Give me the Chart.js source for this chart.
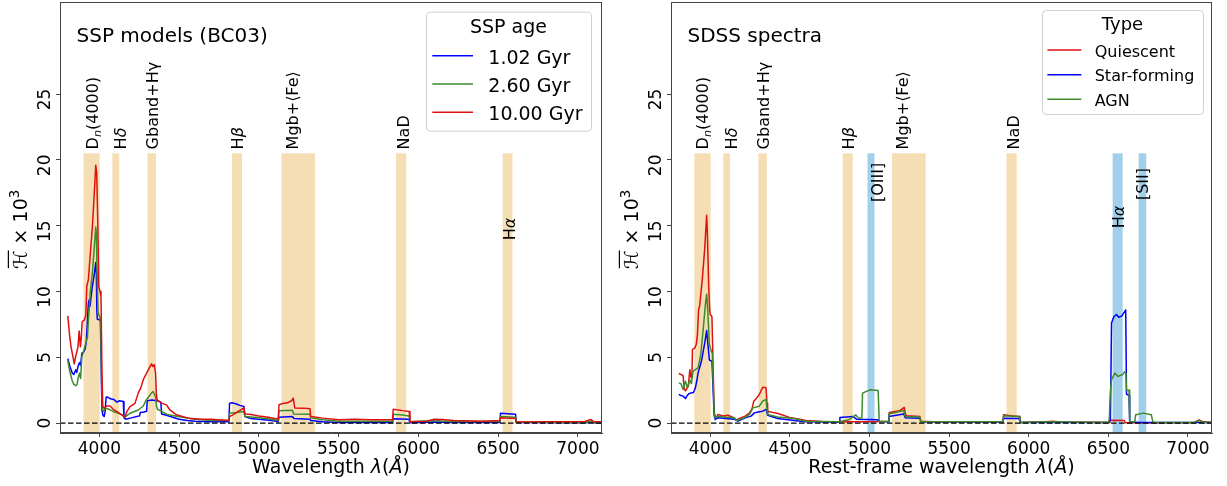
<!DOCTYPE html>
<html>
<head>
<meta charset="utf-8">
<script src="https://cdn.jsdelivr.net/npm/chart.js@4.4.1/dist/chart.umd.min.js"></script>
<style>
  html, body { margin: 0; padding: 0; background: #fff; }
  #wrap { position: relative; width: 1227px; height: 486px; }
  .panel { position: absolute; top: 0; height: 486px; }
  #left { left: 0; width: 613px; }
  #right { left: 613px; width: 614px; }
</style>
</head>
<body>
<div id="wrap">
  <div class="panel" id="left"><canvas id="sspChart"></canvas></div>
  <div class="panel" id="right"><canvas id="sdssChart"></canvas></div>
</div>
<script>
const FONT = '"DejaVu Sans", sans-serif';
const AXIS = '#444';

// shared axes
const xTicks = [4000, 4500, 5000, 5500, 6000, 6500, 7000];
const yTicks = [0, 5, 10, 15, 20, 25];
const xLimits = [3753, 7151];
const yLimits = [-0.75, 32];
const bandTop = 20.5;

// BC03 single stellar populations: [wavelength (Å), H x 10^3]
const ssp102 = [
  [3802, 4.9], [3815, 4.3], [3830, 3.8], [3840, 3.7], [3852, 4.05], [3858, 3.85], [3866, 4.3],
  [3875, 4.6], [3882, 4.4], [3890, 5.3], [3900, 5.4], [3910, 5.6], [3918, 6.2], [3924, 7.6],
  [3931, 9.1], [3937, 9.4], [3942, 8.9], [3948, 9.6], [3956, 10.4], [3964, 11.0], [3970, 11.5],
  [3977, 12.2], [3981, 11.4], [3984, 8.5], [3987, 7.9], [4000, 7.85], [4006, 7.8], [4010, 5.0],
  [4016, 1.0], [4022, 0.6], [4030, 0.5], [4036, 0.9], [4042, 1.95], [4048, 2.0], [4070, 1.85],
  [4090, 1.8], [4110, 1.6], [4125, 1.7], [4150, 1.65], [4154, 0.4], [4165, 0.3], [4200, 0.4],
  [4235, 0.5], [4252, 0.55], [4256, 0.8], [4280, 0.85], [4296, 0.9], [4300, 1.7], [4330, 1.75],
  [4360, 1.7], [4385, 1.6], [4390, 0.7], [4420, 0.6], [4460, 0.45], [4500, 0.3], [4550, 0.2],
  [4600, 0.15], [4700, 0.1], [4812, 0.1], [4816, 1.5], [4830, 1.55], [4860, 1.45], [4880, 1.35],
  [4906, 1.27], [4912, 0.5], [4950, 0.35], [5000, 0.3], [5080, 0.2], [5121, 0.1], [5126, 0.45],
  [5210, 0.5], [5220, 0.35], [5320, 0.3], [5325, 0.2], [5400, 0.1], [5500, 0.05], [5838, 0.05],
  [5842, 0.33], [5940, 0.3], [5947, 0.03], [6100, 0.08], [6200, 0.05], [6511, 0.05], [6515, 0.76],
  [6560, 0.72], [6609, 0.68], [6613, 0.05], [7050, 0.03], [7080, 0.1], [7100, 0.03], [7151, 0.03]
];
const ssp260 = [
  [3802, 4.75], [3815, 3.9], [3830, 3.2], [3840, 2.95], [3852, 2.85], [3860, 2.95], [3868, 3.5],
  [3875, 3.8], [3882, 3.4], [3890, 5.05], [3900, 5.4], [3915, 6.1], [3925, 6.5], [3931, 7.8],
  [3944, 10.1], [3956, 11.4], [3967, 13.2], [3977, 14.9], [3981, 14.4], [3986, 11.0], [3992, 8.4],
  [4004, 8.0], [4008, 7.8], [4014, 3.0], [4020, 1.0], [4028, 0.9], [4035, 1.14], [4060, 1.05],
  [4087, 0.89], [4120, 0.75], [4140, 0.63], [4160, 0.45], [4192, 0.75], [4244, 1.0], [4275, 1.3],
  [4296, 1.8], [4315, 2.1], [4327, 2.3], [4337, 2.4], [4352, 2.0], [4358, 1.3], [4364, 1.05],
  [4390, 0.9], [4431, 0.63], [4494, 0.5], [4598, 0.3], [4700, 0.2], [4812, 0.2], [4816, 0.75],
  [4860, 0.8], [4906, 0.89], [4912, 0.5], [4970, 0.45], [5050, 0.35], [5121, 0.2], [5126, 0.94],
  [5210, 0.98], [5218, 0.7], [5320, 0.68], [5325, 0.4], [5400, 0.25], [5500, 0.15], [5839, 0.15],
  [5843, 0.68], [5900, 0.62], [5942, 0.55], [5947, 0.1], [6100, 0.2], [6200, 0.12], [6511, 0.12],
  [6515, 0.5], [6610, 0.45], [6613, 0.08], [7050, 0.05], [7080, 0.15], [7100, 0.05], [7151, 0.05]
];
const ssp1000 = [
  [3802, 8.15], [3812, 6.8], [3822, 5.8], [3835, 5.0], [3842, 4.5], [3850, 5.0], [3858, 5.4],
  [3866, 5.8], [3873, 7.0], [3881, 5.8], [3886, 6.4], [3892, 7.7], [3906, 7.85], [3915, 8.2],
  [3921, 10.4], [3931, 10.9], [3942, 12.7], [3956, 14.9], [3969, 17.7], [3977, 19.6], [3983, 19.0],
  [3990, 15.2], [3996, 10.4], [4004, 10.0], [4010, 9.6], [4016, 4.0], [4021, 1.27], [4031, 1.14],
  [4046, 1.3], [4067, 1.3], [4087, 1.05], [4108, 0.9], [4140, 0.63], [4160, 0.46], [4171, 0.85],
  [4192, 1.25], [4223, 1.5], [4244, 2.3], [4260, 2.7], [4275, 3.3], [4296, 3.8], [4317, 4.3],
  [4327, 4.5], [4336, 4.3], [4344, 4.45], [4352, 3.8], [4357, 2.2], [4362, 1.77], [4390, 1.52],
  [4421, 1.39], [4442, 1.0], [4483, 0.63], [4556, 0.38], [4640, 0.3], [4700, 0.3], [4812, 0.2],
  [4816, 0.5], [4840, 0.65], [4870, 0.9], [4906, 1.15], [4912, 0.7], [4950, 0.65], [5000, 0.55],
  [5060, 0.45], [5121, 0.3], [5126, 1.4], [5150, 1.5], [5180, 1.55], [5205, 1.7], [5215, 1.9],
  [5225, 1.15], [5280, 1.14], [5320, 1.1], [5325, 0.5], [5400, 0.38], [5500, 0.25], [5600, 0.3],
  [5700, 0.25], [5838, 0.25], [5842, 1.06], [5900, 0.95], [5942, 0.89], [5947, 0.1], [6050, 0.15],
  [6100, 0.3], [6150, 0.28], [6220, 0.2], [6400, 0.15], [6511, 0.2], [6515, 0.4], [6610, 0.36],
  [6613, 0.08], [6800, 0.1], [7040, 0.1], [7080, 0.28], [7100, 0.1], [7151, 0.1]
];

// SDSS galaxy classes
const sdssQuiescent = [
  [3802, 3.77], [3815, 3.7], [3829, 3.6], [3836, 2.6], [3844, 2.45], [3855, 2.7], [3862, 2.8],
  [3871, 4.05], [3878, 3.5], [3884, 3.45], [3888, 5.6], [3902, 5.7], [3912, 6.0], [3919, 6.7],
  [3926, 8.6], [3933, 8.9], [3950, 11.0], [3965, 13.3], [3977, 15.8], [3981, 14.6], [3990, 10.3],
  [3996, 8.6], [4000, 8.25], [4010, 8.1], [4016, 5.0], [4024, 0.9], [4031, 0.5], [4037, 0.4],
  [4048, 0.66], [4080, 0.55], [4110, 0.6], [4140, 0.45], [4162, 0.25], [4190, 0.4], [4215, 0.5],
  [4246, 0.78], [4262, 1.1], [4273, 1.67], [4290, 1.9], [4308, 2.18], [4320, 2.5], [4329, 2.73],
  [4345, 2.7], [4350, 2.68], [4356, 1.5], [4360, 0.91], [4402, 0.78], [4420, 0.75], [4444, 0.66],
  [4506, 0.4], [4569, 0.28], [4600, 0.2], [4700, 0.12], [4800, 0.1], [5000, 0.1], [5120, 0.15],
  [5124, 0.8], [5190, 0.95], [5218, 1.2], [5225, 0.7], [5232, 0.56], [5316, 0.5], [5322, 0.15],
  [5400, 0.1], [5838, 0.1], [5842, 0.63], [5900, 0.55], [5940, 0.5], [5945, 0.05], [6100, 0.1],
  [6150, 0.15], [6200, 0.08], [6505, 0.05], [6510, 0.22], [6600, 0.2], [6606, 0.03], [6800, 0.03],
  [7040, 0.05], [7070, 0.25], [7095, 0.1], [7151, 0.05]
];
const sdssStarForming = [
  [3802, 2.18], [3815, 2.1], [3829, 2.05], [3844, 1.87], [3855, 2.1], [3865, 2.23], [3880, 2.3],
  [3892, 2.3], [3900, 2.5], [3906, 2.68], [3915, 3.2], [3923, 3.82], [3944, 4.7], [3965, 6.1],
  [3977, 7.04], [3983, 6.2], [3994, 4.8], [4010, 4.7], [4016, 3.0], [4024, 0.6], [4031, 0.28],
  [4048, 0.4], [4100, 0.35], [4150, 0.3], [4173, 0.15], [4220, 0.4], [4256, 0.53], [4277, 0.78],
  [4300, 0.85], [4329, 0.91], [4350, 1.04], [4356, 0.8], [4360, 0.6], [4423, 0.35], [4527, 0.2],
  [4600, 0.1], [4810, 0.08], [4814, 0.43], [4897, 0.5], [4918, 0.3], [5054, 0.25], [5060, 0.13],
  [5118, 0.1], [5122, 0.5], [5215, 0.7], [5225, 0.4], [5316, 0.38], [5322, 0.1], [5838, 0.08],
  [5842, 0.38], [5940, 0.35], [5945, 0.05], [6505, 0.05], [6513, 0.3], [6520, 7.6], [6535, 8.1],
  [6551, 8.25], [6565, 8.05], [6585, 8.15], [6609, 8.6], [6614, 2.2], [6630, 2.1], [6634, 0.1],
  [6700, 0.05], [7151, 0.05]
];
const sdssAGN = [
  [3802, 3.06], [3815, 3.0], [3829, 2.56], [3844, 3.19], [3856, 2.68], [3871, 3.3], [3881, 3.0],
  [3892, 3.95], [3923, 4.2], [3940, 5.2], [3956, 7.24], [3969, 9.0], [3977, 9.8], [3983, 8.76],
  [3994, 5.97], [4006, 5.47], [4012, 5.34], [4018, 3.0], [4025, 0.7], [4031, 0.4], [4048, 0.53],
  [4100, 0.45], [4152, 0.4], [4162, 0.2], [4215, 0.4], [4246, 0.66], [4267, 1.16], [4308, 1.29],
  [4329, 1.67], [4350, 1.8], [4356, 1.0], [4360, 0.66], [4423, 0.46], [4527, 0.35], [4600, 0.15],
  [4810, 0.1], [4870, 0.25], [4914, 0.63], [4929, 0.38], [4952, 0.4], [4956, 2.28], [5002, 2.53],
  [5054, 2.48], [5061, 0.13], [5118, 0.12], [5122, 0.7], [5215, 0.96], [5225, 0.5], [5316, 0.46],
  [5322, 0.1], [5838, 0.1], [5842, 0.56], [5940, 0.5], [5945, 0.05], [6130, 0.1], [6500, 0.05],
  [6506, 0.3], [6512, 2.3], [6520, 3.3], [6541, 3.8], [6561, 3.55], [6590, 3.7], [6603, 3.9],
  [6610, 3.8], [6614, 2.5], [6630, 2.5], [6634, 0.1], [6665, 0.1], [6672, 0.63], [6720, 0.76],
  [6770, 0.63], [6780, 0.05], [7040, 0.05], [7070, 0.2], [7095, 0.05], [7151, 0.05]
];

// index windows [start, end] in Å
const absorptionWindows = [[3900, 4002], [4081, 4124], [4302, 4355], [4831, 4894], [5141, 5352], [5860, 5924]];
const sspHalphaWindow = [[6528, 6590]];
const emissionWindows = [[4987, 5031], [6527, 6590], [6690, 6738]];

// rich text pieces: t = text, it = italic, sub / sup = small shifted, bar = overline
const T = (t, o = {}) => ({ t, ...o });
const txtDn = [T('D'), T('n', { sub: true, it: true }), T('(4000)')];
const txtHd = [T('H'), T('δ', { it: true })];
const txtGb = [T('Gband+H'), T('γ')];
const txtHb = [T('H'), T('β', { it: true })];
const txtMg = [T('Mgb+⟨Fe⟩')];
const txtNa = [T('NaD')];
const txtHa = [T('H'), T('α', { it: true })];

const sspLabels = [
  { segs: txtDn, at: [3952, 20.8] }, { segs: txtHd, at: [4131, 20.8] },
  { segs: txtGb, at: [4329, 20.8] }, { segs: txtHb, at: [4866, 20.8] },
  { segs: txtMg, at: [5207, 20.8] }, { segs: txtNa, at: [5906, 20.8] },
  { segs: txtHa, at: [6567, 13.9] }
];
const sdssLabels = [
  { segs: txtDn, at: [3949, 20.8] }, { segs: txtHd, at: [4131, 20.8] },
  { segs: txtGb, at: [4330, 20.8] }, { segs: txtHb, at: [4865, 20.8] },
  { segs: [T('[OIII]')], at: [5046, 16.8] },
  { segs: txtMg, at: [5207, 20.8] }, { segs: txtNa, at: [5904, 20.8] },
  { segs: txtHa, at: [6560, 14.8] }, { segs: [T('[SII]')], at: [6715, 16.95] }
];

const WHEAT = '#f5deb3';
const SKY = '#a2cfea';

function segFont(s, size) {
  const sz = (s.sub || s.sup) ? size * 0.7 : size;
  return (s.it ? 'italic ' : '') + sz + 'px ' + FONT;
}
function richWidth(ctx, segs, size) {
  let w = 0;
  for (const s of segs) { ctx.font = segFont(s, size); w += ctx.measureText(s.t).width; }
  return w;
}
// draws along the current x axis, alphabetic baseline at y
function drawRich(ctx, segs, size, x, y) {
  ctx.textAlign = 'left';
  ctx.textBaseline = 'alphabetic';
  for (const s of segs) {
    ctx.font = segFont(s, size);
    const dy = s.sub ? size * 0.22 : s.sup ? -size * 0.42 : 0;
    ctx.fillText(s.t, x, y + dy);
    const w = ctx.measureText(s.t).width;
    if (s.bar) {
      ctx.beginPath();
      ctx.moveTo(x + 1, y - size * 0.98);
      ctx.lineTo(x + w, y - size * 0.98);
      ctx.lineWidth = 1.2;
      ctx.strokeStyle = ctx.fillStyle;
      ctx.stroke();
    }
    x += w;
  }
  return x;
}

function panelPlugin(cfg) {
  return {
    id: 'panel',
    beforeDatasetsDraw(chart) {
      const { ctx, chartArea: a, scales: { x, y } } = chart;
      ctx.save();
      ctx.beginPath();
      ctx.rect(a.left, a.top, a.width, a.height);
      ctx.clip();
      const yt = y.getPixelForValue(bandTop);
      for (const [color, list] of cfg.bands) {
        ctx.fillStyle = color;
        for (const [l0, l1] of list) {
          const x0 = x.getPixelForValue(l0), x1 = x.getPixelForValue(l1);
          ctx.fillRect(x0, yt, x1 - x0, a.bottom - yt);
        }
      }
      // window names, reading upwards
      ctx.fillStyle = '#000';
      for (const lb of cfg.labels) {
        ctx.save();
        ctx.translate(x.getPixelForValue(lb.at[0]), y.getPixelForValue(lb.at[1]));
        ctx.rotate(-Math.PI / 2);
        drawRich(ctx, lb.segs, 16, 0, 16 * 0.36);
        ctx.restore();
      }
      ctx.restore();
    },
    afterDatasetsDraw(chart) {
      const { ctx, chartArea: a, scales: { y } } = chart;
      ctx.save();
      // frame
      ctx.strokeStyle = AXIS;
      ctx.lineWidth = 1;
      ctx.strokeRect(a.left + 0.5, a.top + 0.5, a.width - 1, a.height - 1);

      // rotated value ticks
      ctx.fillStyle = '#000';
      ctx.font = '17px ' + FONT;
      for (const v of yTicks) {
        const s = String(v);
        const lastW = ctx.measureText(s.slice(-1)).width;
        ctx.save();
        ctx.translate(a.left - 10, y.getPixelForValue(v) - lastW / 2);
        ctx.rotate(-Math.PI / 2);
        ctx.textAlign = 'right';
        ctx.textBaseline = 'alphabetic';
        ctx.fillText(s, 0, 0);
        ctx.restore();
      }

      // y title
      const yTitle = [T('ℋ', { bar: true }), T(' × 10'), T('3', { sup: true })];
      const wy = richWidth(ctx, yTitle, 19);
      ctx.save();
      ctx.translate(a.left - 33, (a.top + a.bottom) / 2 + 12);
      ctx.rotate(-Math.PI / 2);
      drawRich(ctx, yTitle, 19, -wy / 2, 0);
      ctx.restore();

      // x title
      const wx = richWidth(ctx, cfg.xTitle, 19);
      drawRich(ctx, cfg.xTitle, 19, (a.left + a.right) / 2 - wx / 2, 473);

      // panel title
      ctx.font = '20px ' + FONT;
      ctx.textAlign = 'left';
      ctx.textBaseline = 'alphabetic';
      ctx.fillText(cfg.title, a.left + 16.5, 42.3);

      // legend
      const L = cfg.legend;
      const x0 = a.right - L.right - L.w, y0 = a.top + L.top;
      ctx.beginPath();
      ctx.roundRect(x0 + 0.5, y0 + 0.5, L.w, L.h, 4);
      ctx.fillStyle = 'rgba(255,255,255,0.8)';
      ctx.fill();
      ctx.strokeStyle = '#d0d0d0';
      ctx.stroke();
      ctx.fillStyle = '#000';
      ctx.font = L.titleSize + 'px ' + FONT;
      ctx.textAlign = 'center';
      ctx.fillText(L.title, x0 + L.w / 2, y0 + L.titleBase);
      ctx.font = L.size + 'px ' + FONT;
      ctx.textAlign = 'left';
      chart.data.datasets.filter(d => !d.hideInLegend).forEach((d, i) => {
        const yy = y0 + L.row0 + i * L.rowGap;
        ctx.beginPath();
        ctx.moveTo(x0 + L.lineX0, yy);
        ctx.lineTo(x0 + L.lineX1, yy);
        ctx.strokeStyle = d.borderColor;
        ctx.lineWidth = 1.5;
        ctx.stroke();
        ctx.fillStyle = '#000';
        ctx.fillText(d.label, x0 + L.textX, yy + L.size * 0.364 + 1);
      });
      ctx.restore();
    }
  };
}

const series = (label, pts, color, order) => ({
  label, order,
  data: pts.map(([x, y]) => ({ x, y })),
  borderColor: color, backgroundColor: color,
  borderWidth: 1.5, pointRadius: 0, tension: 0, fill: false,
  borderJoinStyle: 'round'
});
const zeroLine = () => ({
  label: 'zero', order: 0, hideInLegend: true,
  data: xLimits.map(x => ({ x, y: 0 })),
  borderColor: '#000', borderWidth: 1.3, borderDash: [5.5, 2.5],
  pointRadius: 0, fill: false
});

function makeChart(id, datasets, cfg) {
  return new Chart(document.getElementById(id), {
    type: 'line',
    data: { datasets },
    options: {
      responsive: true,
      maintainAspectRatio: false,
      animation: false,
      devicePixelRatio: 1,
      events: [],
      layout: { padding: { top: 2, right: cfg.padRight, left: 0, bottom: 0 } },
      plugins: { legend: { display: false }, tooltip: { enabled: false } },
      scales: {
        x: {
          type: 'linear', min: xLimits[0], max: xLimits[1],
          afterBuildTicks: s => { s.ticks = xTicks.map(value => ({ value })); },
          afterFit: s => { s.height = 53; s.paddingLeft = 0; s.paddingRight = 0; },
          grid: { drawOnChartArea: false, drawTicks: true, tickLength: 4, color: AXIS },
          border: { display: true, color: AXIS, width: 1 },
          ticks: {
            color: '#000', font: { family: FONT, size: 17 }, padding: 2,
            maxRotation: 0, autoSkip: false, callback: v => String(v)
          }
        },
        y: {
          type: 'linear', min: yLimits[0], max: yLimits[1],
          afterBuildTicks: s => { s.ticks = yTicks.map(value => ({ value })); },
          afterFit: s => { s.width = cfg.axisLeft; },
          grid: { drawOnChartArea: false, drawTicks: true, tickLength: 4, color: AXIS },
          border: { display: true, color: AXIS, width: 1 },
          ticks: { display: false }
        }
      }
    },
    plugins: [panelPlugin(cfg)]
  });
}

makeChart('sspChart', [
  zeroLine(),
  series('1.02 Gyr', ssp102, '#0000ff', 3),
  series('2.60 Gyr', ssp260, '#3d8b2b', 2),
  series('10.00 Gyr', ssp1000, '#e01010', 1)
], {
  title: 'SSP models (BC03)',
  axisLeft: 60, padRight: 11,
  bands: [[WHEAT, absorptionWindows.concat(sspHalphaWindow)]],
  labels: sspLabels,
  xTitle: [T('Wavelength '), T('λ', { it: true }), T('('), T('Å', { it: true }), T(')')],
  legend: {
    title: 'SSP age', titleSize: 19, size: 19,
    w: 165, h: 119, right: 11, top: 9.7, titleBase: 21.6,
    row0: 44, rowGap: 28.3, lineX0: 6.3, lineX1: 47, textX: 62.3
  }
});

makeChart('sdssChart', [
  zeroLine(),
  series('Quiescent', sdssQuiescent, '#e01010', 3),
  series('Star-forming', sdssStarForming, '#0000ff', 2),
  series('AGN', sdssAGN, '#3d8b2b', 1)
], {
  title: 'SDSS spectra',
  axisLeft: 58, padRight: 15,
  bands: [[WHEAT, absorptionWindows], [SKY, emissionWindows]],
  labels: sdssLabels,
  xTitle: [T('Rest-frame wavelength '), T('λ', { it: true }), T('('), T('Å', { it: true }), T(')')],
  legend: {
    title: 'Type', titleSize: 18, size: 16,
    w: 161, h: 104, right: 9, top: 8, titleBase: 20,
    row0: 40, rowGap: 24.65, lineX0: 5.4, lineX1: 39.4, textX: 52.7
  }
});
</script>
</body>
</html>
